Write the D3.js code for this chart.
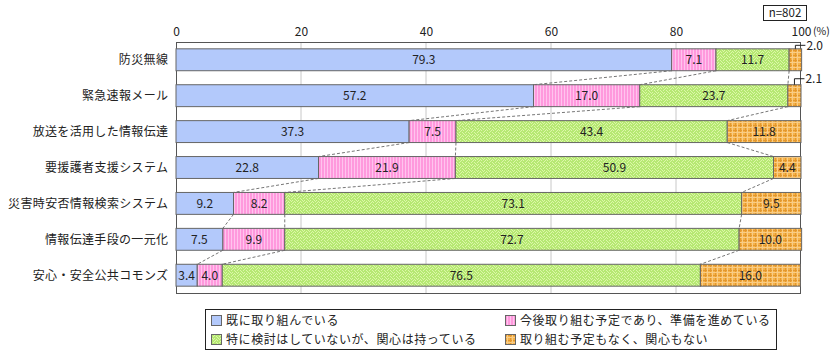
<!DOCTYPE html>
<html><head><meta charset="utf-8">
<script src="https://cdn.jsdelivr.net/npm/d3@7"></script>
<style>
body{margin:0;background:#fff;}
text{font-family:"Noto Sans CJK JP","Noto Sans",sans-serif;}
</style></head>
<body><svg id="c" width="840" height="357"></svg>
<script>
const categories = ["防災無線","緊急速報メール","放送を活用した情報伝達","要援護者支援システム","災害時安否情報検索システム","情報伝達手段の一元化","安心・安全公共コモンズ"];
const seriesNames = ["既に取り組んでいる","今後取り組む予定であり、準備を進めている","特に検討はしていないが、関心は持っている","取り組む予定もなく、関心もない"];
const already = [79.3,57.2,37.3,22.8,9.2,7.5,3.4];
const planned = [7.1,17.0,7.5,21.9,8.2,9.9,4.0];
const interested = [11.7,23.7,43.4,50.9,73.1,72.7,76.5];
const none = [2.0,2.1,11.8,4.4,9.5,10.0,16.0];
const tickValues = [0,20,40,60,80,100];
const sampleLabel = "n=802";

(function(){
const series = [already, planned, interested, none];
const svg = d3.select("#c");
const defs = svg.append("defs");

const pPink = defs.append("pattern").attr("id","pPink").attr("patternUnits","userSpaceOnUse").attr("width",3).attr("height",4);
pPink.append("rect").attr("width",3).attr("height",4).attr("fill","#ff99dd");
pPink.append("rect").attr("x",0).attr("width",1).attr("height",4).attr("fill","#ffc4ee");

const pGreen = defs.append("pattern").attr("id","pGreen").attr("patternUnits","userSpaceOnUse").attr("width",6).attr("height",6);
pGreen.append("rect").attr("width",6).attr("height",6).attr("fill","#b6e873");
[[0,0],[1,1],[2,2],[3,0],[4,5],[5,4],[0,3],[1,4],[3,3],[4,2]].forEach(([a,b])=>{
  pGreen.append("rect").attr("x",a).attr("y",b).attr("width",1).attr("height",1).attr("fill","#dcf8a8");
});

const pOrange = defs.append("pattern").attr("id","pOrange").attr("patternUnits","userSpaceOnUse").attr("width",5).attr("height",5);
pOrange.append("rect").attr("width",5).attr("height",5).attr("fill","#f5b24a");
pOrange.append("rect").attr("x",0).attr("width",1).attr("height",5).attr("fill","#e3982e");
pOrange.append("rect").attr("y",0).attr("width",5).attr("height",1).attr("fill","#e3982e");
pOrange.append("rect").attr("x",2).attr("width",1).attr("height",5).attr("fill","#f9cc85");
pOrange.append("rect").attr("y",2).attr("width",5).attr("height",1).attr("fill","#f9cc85");

const fills = ["#b3c9fb","url(#pPink)","url(#pGreen)","url(#pOrange)"];

const L = 176, R = 801, T = 42, B = 293;
const x = d3.scaleLinear().domain([0,100]).range([L,R]);
const y = d3.scaleBand().domain(categories).range([T,B]).paddingInner(0.39).paddingOuter(0.19);

svg.append("g").selectAll("line").data(tickValues.filter(v=>v>0&&v<100)).join("line")
  .attr("x1",d=>x(d)).attr("x2",d=>x(d)).attr("y1",T).attr("y2",B)
  .attr("stroke","#c8c8c8").attr("stroke-width",1);

svg.append("rect").attr("x",L+0.5).attr("y",T+0.5).attr("width",R-L-1).attr("height",B-T)
  .attr("fill","none").attr("stroke","#555").attr("stroke-width",1);

const axis = d3.axisTop(x).tickValues(tickValues).tickSize(0).tickPadding(6).tickFormat(d3.format("d"));
const ag = svg.append("g").attr("transform",`translate(0,${T})`).call(axis);
ag.select(".domain").remove();
ag.selectAll("text").attr("font-size",12).attr("fill","#222").attr("font-family",null);
svg.append("text").attr("x",x(100)+12).attr("y",T-7).attr("font-size",10.5).attr("fill","#222").text("(%)");

svg.append("rect").attr("x",763.5).attr("y",5.5).attr("width",43).attr("height",15).attr("fill","#fff").attr("stroke","#222");
svg.append("text").attr("x",785).attr("y",17).attr("text-anchor","middle").attr("font-size",11.5).attr("fill","#222").text(sampleLabel);

const rows = categories.map((c,i)=>{
  let cum=0; const segs=[];
  series.forEach((s,k)=>{segs.push({k,v:s[i],x0:cum,x1:cum+s[i]}); cum+=s[i];});
  return {c,i,segs};
});

const conn = svg.append("g");
for(let i=0;i<rows.length-1;i++){
  for(let k=0;k<3;k++){
    conn.append("line")
      .attr("x1",x(rows[i].segs[k].x1)).attr("y1",y(categories[i])+y.bandwidth())
      .attr("x2",x(rows[i+1].segs[k].x1)).attr("y2",y(categories[i+1]))
      .attr("stroke","#777").attr("stroke-width",1).attr("stroke-dasharray","3,2");
  }
}

const bg = svg.append("g");
rows.forEach(r=>{
  r.segs.forEach(s=>{
    bg.append("rect").attr("x",x(s.x0)).attr("y",y(r.c)).attr("width",x(s.x1)-x(s.x0)).attr("height",y.bandwidth())
      .attr("fill",fills[s.k]).attr("stroke","#666").attr("stroke-width",1);
    const w = x(s.x1)-x(s.x0);
    if(w>18){
      bg.append("text").attr("x",(x(s.x0)+x(s.x1))/2).attr("y",y(r.c)+y.bandwidth()/2+4.5)
        .attr("text-anchor","middle").attr("font-size",12).attr("fill","#222").text(s.v.toFixed(1));
    } else {
      const cx=(x(s.x0)+x(s.x1))/2, ty=y(r.c), ly=ty - (r.i===0?3.5:6);
      bg.append("path").attr("d",`M${cx},${ty} V${ly} H${cx+10}`).attr("fill","none").attr("stroke","#222");
      bg.append("text").attr("x",cx+11).attr("y",ly+4.5).attr("font-size",12).attr("fill","#222").text(s.v.toFixed(1));
    }
  });
});

function widen(sel, perChar){
  sel.each(function(d){
    const t = d3.select(this).text();
    const target = t.length*perChar;
    if(this.getComputedTextLength() < target){
      d3.select(this).attr("textLength",target).attr("lengthAdjust","spacing");
    }
  });
}

const cl = svg.append("g").selectAll("text").data(categories).join("text")
  .attr("x",168).attr("y",d=>y(d)+y.bandwidth()/2+4.5).attr("text-anchor","end")
  .attr("font-size",12).attr("fill","#222").text(d=>d);
widen(cl, 12.3);

svg.append("rect").attr("x",205.5).attr("y",309.5).attr("width",571).attr("height",40).attr("fill","#fff").attr("stroke","#222");
const legPos = [[211,315],[505,315],[211,334],[505,334]];
seriesNames.forEach((n,k)=>{
  const [lx,ly]=legPos[k];
  svg.append("rect").attr("x",lx+0.5).attr("y",ly+0.5).attr("width",10).attr("height",10).attr("fill",fills[k]).attr("stroke","#666");
  const t = svg.append("text").attr("x",lx+15).attr("y",ly+10).attr("font-size",12).attr("fill","#222").text(n);
  widen(t, 12.5);
});
})();
</script></body></html>
